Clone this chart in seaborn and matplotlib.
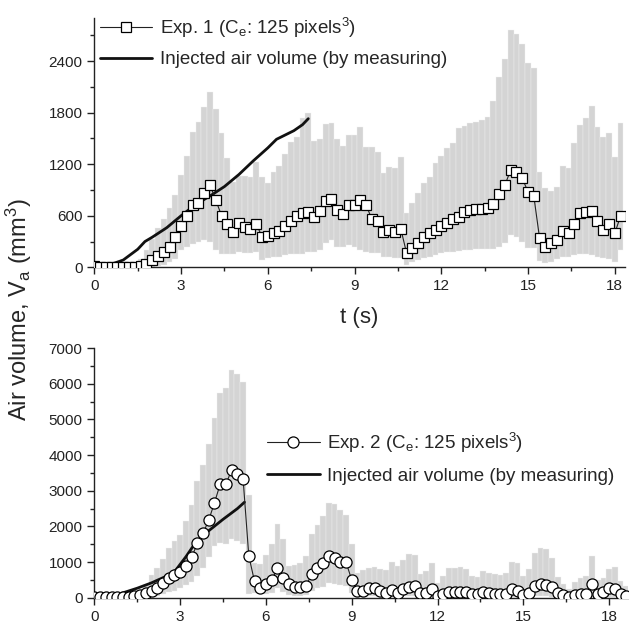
import numpy as np
import matplotlib
matplotlib.use("Agg")
import matplotlib.pyplot as plt
from matplotlib.ticker import MultipleLocator, AutoMinorLocator
import seaborn as sns

# --- Exp. 1 (top panel), sampled every 0.2 s ---
exp1_mean = [10, 5, 5, 5, 5, 5, 5, 8,
             19, 35, 85, 131, 175, 240, 356, 480, 595, 730, 744, 868, 957, 783, 600, 504,
             414, 512, 465, 445, 504, 356, 370, 405, 420, 480, 535, 595, 630, 640, 590, 655,
             775, 795, 665, 622, 728, 728, 783, 725, 558, 542, 414, 434, 407, 449, 163, 228,
             286, 349, 395, 434, 484, 519, 558, 589, 640, 667, 675, 682, 694, 736, 853, 957,
             1132, 1105, 1035, 879, 829, 337, 240, 279, 318, 426, 395, 500, 628, 647, 659, 542,
             434, 504, 395, 597]
exp1_high = [15, 15, 15, 15, 20, 25, 35, 65,
             100, 201, 326, 454, 558, 686, 837, 1080, 1300, 1577, 1690, 1868, 2042, 1845, 1558, 1270,
             990, 1060, 1060, 1050, 1220, 1047, 977, 1112, 1178, 1318, 1461, 1519, 1733, 1791, 1473, 1489,
             1663, 1682, 1489, 1411, 1539, 1539, 1635, 1403, 1395, 1345, 1093, 1170, 1151, 1287, 635, 751,
             861, 977, 1054, 1209, 1294, 1384, 1450, 1616, 1643, 1675, 1694, 1713, 1752, 1930, 2210, 2419,
             2760, 2713, 2597, 2380, 2314, 1109, 919, 891, 938, 1182, 1159, 1442, 1655, 1733, 1880, 1635,
             1512, 1558, 1287, 1675]
exp1_low = [0, 0, 0, 0, 0, 0, 0, 0,
            0, 0, 5, 15, 30, 60, 100, 200, 240, 270, 300, 320, 300, 200, 150, 160,
            160, 180, 165, 165, 180, 85, 105, 124, 124, 143, 151, 160, 160, 180, 180, 201,
            279, 318, 240, 240, 260, 240, 201, 182, 162, 162, 124, 115, 105, 105, 27, 65,
            85, 105, 124, 143, 162, 175, 182, 190, 201, 201, 209, 209, 209, 215, 240, 286,
            376, 356, 298, 221, 221, 77, 46, 65, 93, 116, 124, 143, 160, 160, 143, 124,
            105, 93, 65, 200]

inj1_t = [0, 0.5, 1.0, 1.5, 1.75, 2.0, 2.5, 3.0, 3.5, 4.0, 4.5, 5.0, 5.5, 6.0, 6.3, 6.6, 6.9, 7.2, 7.4]
inj1_v = [0, 25, 85, 210, 300, 350, 460, 600, 730, 830, 940, 1080, 1240, 1390, 1490, 1540, 1590, 1660, 1730]

# --- Exp. 2 (bottom panel), sampled every 0.2 s ---
exp2_mean = [10, 10, 10, 10, 10, 10, 28, 48, 76, 122,
             197, 281, 403, 543, 637, 730, 889, 1132, 1525, 1805,
             2179, 2664, 3188, 3188, 3581, 3468, 3337, 1178, 460, 263,
             384, 496, 824, 544, 384, 291, 309, 330, 665, 824,
             982, 1178, 1104, 992, 1000, 496, 196, 196, 264, 264,
             196, 140, 215, 140, 243, 291, 328, 140, 122, 243,
             60, 104, 168, 150, 150, 150, 95, 95, 150, 123,
             104, 95, 95, 243, 188, 76, 140, 336, 384, 356,
             308, 123, 76, 28, 76, 104, 104, 376, 104, 168,
             278, 236, 104, 48]
exp2_high = [20, 20, 30, 40, 50, 70, 100, 151, 197, 356,
             637, 824, 1085, 1402, 1590, 1758, 2150, 2599, 3272, 3721,
             4300, 5047, 5731, 5888, 6385, 6272, 6057, 2880, 982, 945,
             1197, 1506, 2067, 1646, 889, 917, 982, 1169, 1778, 2039,
             2291, 2647, 2638, 2459, 2319, 1506, 701, 777, 841, 869,
             796, 777, 1009, 889, 1057, 1225, 1197, 665, 757, 975,
             421, 617, 824, 841, 869, 805, 608, 572, 748, 701,
             665, 636, 683, 1009, 964, 608, 796, 1262, 1402, 1374,
             1105, 589, 384, 236, 432, 561, 608, 1169, 496, 561,
             805, 869, 468, 328]
exp2_low = [0, 0, 0, 0, 0, 0, 0, 0, 0, 0,
            20, 60, 100, 150, 200, 280, 350, 450, 600, 850,
            1150, 1450, 1530, 1500, 1650, 1600, 1500, 100, 122, 100,
            110, 140, 264, 170, 80, 60, 60, 80, 200, 264,
            309, 404, 390, 360, 320, 140, 28, 40, 50, 50,
            40, 40, 45, 40, 50, 60, 60, 40, 40, 50,
            20, 20, 25, 25, 25, 25, 20, 20, 25, 25,
            20, 20, 20, 30, 30, 20, 20, 40, 40, 40,
            30, 20, 15, 10, 15, 20, 20, 30, 20, 20,
            25, 25, 15, 10]

inj2_t = [0, 0.5, 1.0, 1.5, 2.0, 2.5, 2.85, 3.2, 3.55, 4.0, 4.5, 5.0, 5.25]
inj2_v = [0, 40, 140, 270, 420, 600, 780, 1150, 1560, 1880, 2200, 2500, 2680]

BAR_GREY = "#d4d4d4"


def draw_panel(ax, mean, low, high, inj_t, inj_v, marker, msize, label):
    t = np.arange(len(mean)) * 0.2
    low = np.array(low)
    high = np.array(high)
    ax.bar(t, high - low, bottom=low, width=0.2, color=BAR_GREY,
           edgecolor="#f2f2f2", linewidth=0.25, zorder=1)
    sns.lineplot(x=t, y=mean, ax=ax, color="#222222", linewidth=0.8,
                 marker=marker, markersize=msize, markerfacecolor="white",
                 markeredgecolor="black", markeredgewidth=0.9, zorder=4, label=label)
    sns.lineplot(x=inj_t, y=inj_v, ax=ax, color="#111111", linewidth=2.0,
                 zorder=3, label="Injected air volume (by measuring)")


sns.set_theme(style="ticks")
plt.rcParams["font.family"] = ["Liberation Sans", "DejaVu Sans"]
plt.rcParams["mathtext.default"] = "regular"

fig = plt.figure(figsize=(6.29, 6.26), dpi=100)
ax1 = fig.add_axes([0.150, 0.573, 0.843, 0.398])
ax2 = fig.add_axes([0.150, 0.045, 0.848, 0.399])

draw_panel(ax1, exp1_mean, exp1_low, exp1_high, inj1_t, inj1_v, "s", 7,
           "Exp. 1 (C$_e$: 125 pixels$^3$)")
draw_panel(ax2, exp2_mean, exp2_low, exp2_high, inj2_t, inj2_v, "o", 8,
           "Exp. 2 (C$_e$: 125 pixels$^3$)")

ax1.set_xlim(0, 18.34)
ax1.set_ylim(0, 2900)
ax1.yaxis.set_major_locator(MultipleLocator(600))
ax2.set_xlim(0, 18.65)
ax2.set_ylim(0, 7000)
ax2.yaxis.set_major_locator(MultipleLocator(1000))

for ax in (ax1, ax2):
    ax.xaxis.set_major_locator(MultipleLocator(3))
    ax.xaxis.set_minor_locator(AutoMinorLocator(2))
    ax.yaxis.set_minor_locator(AutoMinorLocator(2))
    ax.tick_params(which="major", direction="out", length=5, width=1, labelsize=11, colors="#222222")
    ax.tick_params(which="minor", direction="out", length=3, width=1, colors="#222222")
    for s in ("left", "bottom"):
        ax.spines[s].set_color("#222222")
        ax.spines[s].set_linewidth(1)
    sns.despine(ax=ax)
    ax.set_ylabel("")

ax1.set_xlabel("t (s)", fontsize=16, labelpad=10)
ax2.set_xlabel("")

ax1.legend(loc="upper left", bbox_to_anchor=(-0.004, 1.04), frameon=False, fontsize=13.5,
           handlelength=2.8, handletextpad=0.4, labelspacing=0.6, borderaxespad=0)
ax2.legend(loc="upper left", bbox_to_anchor=(0.31, 0.70), frameon=False, fontsize=13.5,
           handlelength=2.8, handletextpad=0.4, labelspacing=0.7, borderaxespad=0)

fig.text(0.03, 0.505, "Air volume, V$_a$ (mm$^3$)", rotation=90, fontsize=17,
         va="center", ha="center")

fig.savefig("out.png", dpi=100)
